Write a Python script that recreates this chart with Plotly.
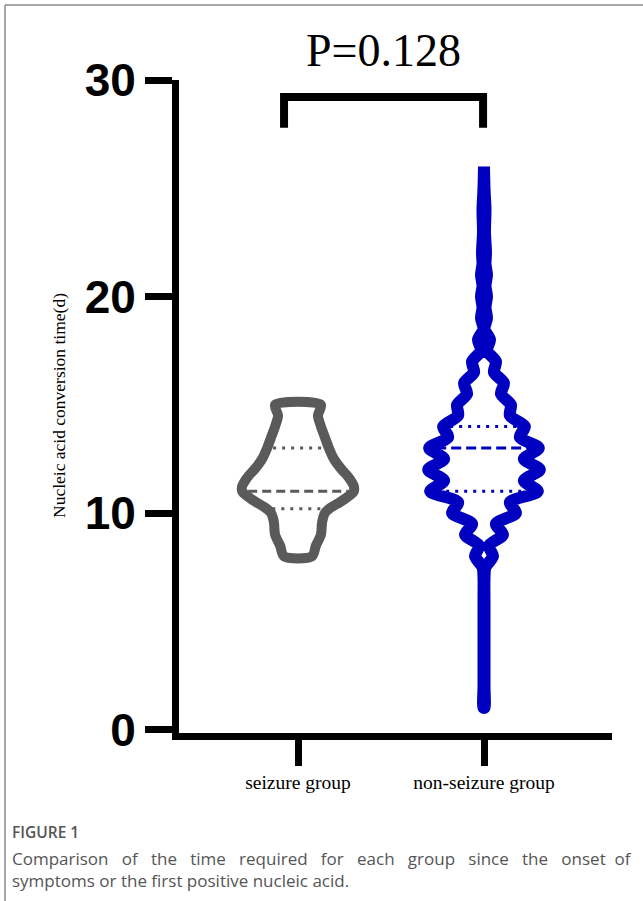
import numpy as np
import plotly.graph_objects as go

# ---------------- data ----------------
categories = ["seizure group", "non-seizure group"]

# violin outline: relative density (half-width) at each y value
seizure_y = [8.0, 8.5, 9.0, 9.5, 9.75, 10.0, 10.25, 10.5, 10.75, 11.0, 11.25,
             11.5, 11.75, 12.0, 12.5, 13.0, 13.5, 14.0, 14.5, 15.0]
seizure_density = [14, 18, 23, 24, 25, 27, 33, 42, 50, 56, 56,
                   53, 49, 44, 36, 31, 27, 23, 20, 23]
seizure_quartiles = [10.2, 11.0, 13.0]   # Q1, median, Q3

nonseizure_y = [1, 2, 3, 4, 5, 6, 7, 7.5, 8, 8.5, 9, 9.5, 10, 10.5, 11, 11.5,
                12, 12.5, 13, 13.5, 14, 14.5, 15, 15.5, 16, 16.5, 17, 17.5, 18,
                18.5, 19, 19.5, 20, 20.5, 21, 21.5, 22, 23, 24, 25, 26]
nonseizure_density = [0.5, 0.5, 0.5, 0.5, 0.5, 0.5, 0.5, 1.5, 9, 5, 19, 12, 32,
                      26, 54, 40, 56, 40, 55, 36, 41, 26, 27, 17, 20, 10, 12, 3,
                      6, 0.5, 3, 1.5, 3, 1.5, 3, 1.5, 2, 1, 1.5, 0.5, 0]
nonseizure_quartiles = [11.0, 13.0, 14.0]

y_ticks = [0, 10, 20, 30]
p_text = "P=0.128"
caption_title = "FIGURE 1"
caption_line1 = "Comparison of the time required for each group since the onset of"
caption_line2 = "symptoms or the first positive nucleic acid."

# ---------------- layout constants ----------------
W, H = 643, 901
ML, MR, MT, MB = 179, 31, 80, 168
PW, PH = W - ML - MR, H - MT - MB
X_RANGE = [-0.6398, 1.6882]
Y_RANGE = [-0.16, 30]
HALF_WIDTH = 0.30            # max violin half-width, x data units
PX_PER_X = PW / (X_RANGE[1] - X_RANGE[0])

def px_x(p):                 # page pixel -> paper x
    return (p - ML) / PW

def px_y(p):                 # page pixel -> paper y
    return (H - MB - p) / PH

groups = [
    dict(pos=0, y=seizure_y, d=seizure_density, q=seizure_quartiles,
         color="#5a5a5a", lw=10, dash="9px,5px", dot="3px,6px"),
    dict(pos=1, y=nonseizure_y, d=nonseizure_density, q=nonseizure_quartiles,
         color="#0000c0", lw=12, dash="10px,5px", dot="3px,6px"),
]
dmax = max(max(seizure_density), max(nonseizure_density))
scale = HALF_WIDTH / dmax

fig = go.Figure()
for g in groups:
    y = np.array(g["y"], dtype=float)
    d = np.array(g["d"], dtype=float)
    xs = np.concatenate([g["pos"] + d * scale, (g["pos"] - d * scale)[::-1],
                         [g["pos"] + d[0] * scale]])
    ys = np.concatenate([y, y[::-1], [y[0]]])
    fig.add_trace(go.Scatter(x=xs, y=ys, mode="lines",
                             line=dict(color=g["color"], width=g["lw"],
                                       shape="spline", smoothing=0.8),
                             hoverinfo="skip", showlegend=False))
    inset = (g["lw"] / 2 + 1) / PX_PER_X
    for i, qv in enumerate(g["q"]):
        hw = np.interp(qv, y, d) * scale - inset
        fig.add_trace(go.Scatter(
            x=[g["pos"] - hw, g["pos"] + hw], y=[qv, qv], mode="lines",
            line=dict(color=g["color"], width=3,
                      dash=g["dash"] if i == 1 else g["dot"]),
            hoverinfo="skip", showlegend=False))

# significance bracket
bx0, bx1, by_top, by_leg = -0.075, 0.995, 29.22, 27.8
fig.add_shape(type="path",
              path=f"M {bx0},{by_leg} L {bx0},{by_top} L {bx1},{by_top} L {bx1},{by_leg}",
              xref="x", yref="y", line=dict(color="black", width=8))
fig.add_annotation(x=(bx0 + bx1) / 2, y=px_y(50), xref="x", yref="paper",
                   text=p_text, showarrow=False, yanchor="middle",
                   font=dict(family="Liberation Serif, Times New Roman, serif",
                             size=46, color="black"))

# y-axis title
fig.add_annotation(x=px_x(47), y=px_y(406), xref="paper", yref="paper",
                   text="Nucleic acid conversion time(d)", textangle=-90,
                   showarrow=False,
                   font=dict(family="Liberation Serif, Times New Roman, serif",
                             size=17.5, color="black"))

# figure frame lines
frame = dict(color="#8c8c8c", width=1.5)
fig.add_shape(type="line", xref="paper", yref="paper", x0=px_x(5), x1=px_x(W),
              y0=px_y(5), y1=px_y(5), line=frame)
fig.add_shape(type="line", xref="paper", yref="paper", x0=px_x(5), x1=px_x(5),
              y0=px_y(5), y1=px_y(H), line=frame)

# caption (first line widened to mimic justified text)
cap_font = "Open Sans, Noto Sans, sans-serif"
words = caption_line1.split(" ")
line1 = " \u00a0\u00a0".join(words[:-1]) + " \u00a0" + words[-1]
fig.add_annotation(x=px_x(10), y=px_y(832), xref="paper", yref="paper",
                   text=caption_title, showarrow=False, xanchor="left",
                   yanchor="middle",
                   font=dict(family=cap_font, size=15.5, color="#555555",
                             weight=600))
fig.add_annotation(x=px_x(10), y=px_y(869), xref="paper", yref="paper",
                   text=line1 + "<br>" + caption_line2, align="left",
                   showarrow=False, xanchor="left", yanchor="middle",
                   font=dict(family=cap_font, size=17, color="#555555"))

fig.update_layout(
    width=W, height=H, margin=dict(l=ML, r=MR, t=MT, b=MB, autoexpand=False),
    paper_bgcolor="white", plot_bgcolor="white", showlegend=False,
    xaxis=dict(range=X_RANGE, tickmode="array", tickvals=[0, 1],
               ticktext=categories, ticks="outside", ticklen=26, tickwidth=7,
               tickcolor="black", showline=True, linewidth=7, linecolor="black",
               showgrid=False, zeroline=False, fixedrange=True,
               tickfont=dict(family="Liberation Serif, Times New Roman, serif",
                             size=19.5, color="black")),
    yaxis=dict(range=Y_RANGE, tickmode="array", tickvals=y_ticks,
               ticks="outside", ticklen=27, tickwidth=7, tickcolor="black",
               showline=True, linewidth=7, linecolor="black", showgrid=False,
               zeroline=False, fixedrange=True, ticklabelstandoff=0,
               tickfont=dict(family="Liberation Sans, Arial, sans-serif",
                             size=46, color="black", weight="bold")),
)

fig.write_html("out.html", config={"displayModeBar": False},
               post_script="document.body.style.margin='0';"
                           "document.body.style.overflow='hidden';")
